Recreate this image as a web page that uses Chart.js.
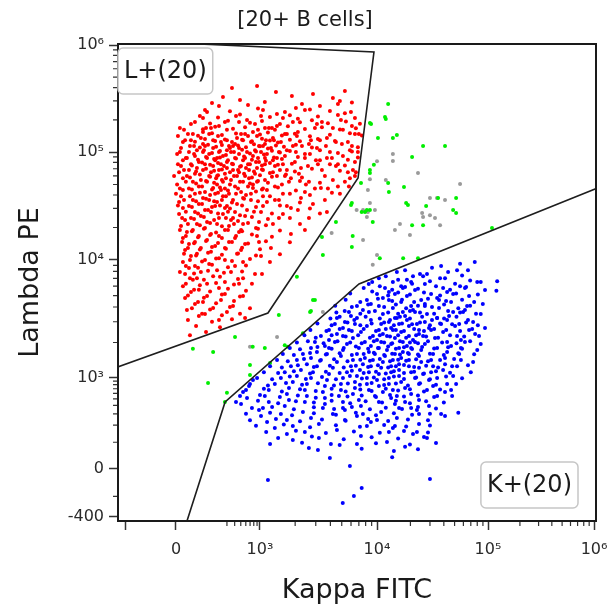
<!DOCTYPE html>
<html>
<head>
<meta charset="utf-8">
<title>20+ B cells</title>
<script src="https://cdn.jsdelivr.net/npm/chart.js@4.4.1/dist/chart.umd.min.js"></script>
<style>
  html, body { margin: 0; padding: 0; background: #fff; }
  #wrap { width: 610px; height: 607px; }
</style>
</head>
<body>
<div id="wrap"><canvas id="plot" width="610" height="607"></canvas></div>
<script>
// axis ticks (biexponential display)
const kappaTicks = [-400, 0, 1e3, 1e4, 1e5, 1e6];
const kappaTickLabels = ['', '0', '10³', '10⁴', '10⁵', '10⁶'];
const lambdaTicks = [-400, 0, 1e3, 1e4, 1e5, 1e6];
const lambdaTickLabels = ['-400', '0', '10³', '10⁴', '10⁵', '10⁶'];
const kappaMinor = [300,400,500,600,700,800,900,2e3,3e3,4e3,5e3,6e3,7e3,8e3,9e3,2e4,3e4,4e4,5e4,6e4,7e4,8e4,9e4,2e5,3e5,4e5,5e5,6e5,7e5,8e5,9e5];
const lambdaMinor = [-150,100,200,300,400,500,600,700,800,900,2e3,3e3,4e3,5e3,6e3,7e3,8e3,9e3,2e4,3e4,4e4,5e4,6e4,7e4,8e4,9e4,2e5,3e5,4e5,5e5,6e5,7e5,8e5,9e5];

// gates [kappa, lambda]
const lGate = [[-600,1230],[1170,3560],[6890,5.74e4],[9420,8.6e5],[-600,1.11e6]];
const kGate = [[35,-580],[280,450],[7020,6270],[1.2e6,4.85e4]];
const gateNames = ['L+(20)', 'K+(20)'];

// events [kappa, lambda]
const lPlus = [
[362,3.96e5],[900,4.14e5],
[1370,3.64e5],[2840,3.48e5],[5320,3.72e5],
[258,3.27e5],[486,3.06e5],[1876,3.34e5],[4200,3.2e5],[4820,3.0e5],
[167,2.87e5],[650,2.75e5],[1100,2.93e5],[2286,2.81e5],[3256,2.69e5],[6106,2.9e5],
[221,2.69e5],[1061,2.47e5],[2029,2.58e5],[4637,2.81e5],
[123,2.47e5],[336,2.4e5],[931,2.55e5],[1635,2.36e5],[2675,2.5e5],[3963,2.42e5],[5320,2.3e5],
[135,2.36e5],[420,2.17e5],[1397,2.26e5],[2424,2.47e5],[5990,2.36e5],
[96,2.17e5],[213,2.1e5],[486,2.24e5],[1217,2.12e5],[1803,2.2e5],[2111,2.05e5],[3130,2.15e5],[4637,2.22e5],[6480,2.08e5],
[112,2.08e5],[278,1.91e5],[627,1.99e5],[1020,2.17e5],[1572,2.08e5],[3386,1.91e5],[4920,1.99e5],
[73,1.91e5],[154,1.85e5],[312,1.96e5],[698,1.88e5],[1040,1.95e5],[1482,1.83e5],[2198,1.9e5],[2782,1.98e5],[3810,1.86e5],[5427,1.93e5],[7146,1.84e5],
[56,1.83e5],[129,1.68e5],[221,1.75e5],[469,1.91e5],[836,1.83e5],[1193,1.68e5],[1397,1.75e5],[1913,1.91e5],[3070,1.83e5],[4200,1.68e5],[6106,1.75e5],
[14,1.68e5],[112,1.63e5],[190,1.72e5],[376,1.65e5],[584,1.7e5],[931,1.61e5],[1266,1.68e5],[1734,1.74e5],[2424,1.64e5],[3386,1.7e5],[4823,1.62e5],[6605,1.67e5],
[29,1.61e5],[64,1.47e5],[112,1.54e5],[160,1.68e5],[300,1.61e5],[505,1.47e5],[777,1.54e5],[1103,1.68e5],[1343,1.61e5],[1700,1.47e5],[2111,1.54e5],[2950,1.68e5],[5117,1.61e5],[7000,1.47e5],
[44,1.47e5],[87,1.42e5],[167,1.5e5],[248,1.44e5],[420,1.49e5],[650,1.41e5],[1000,1.46e5],[1170,1.52e5],[1541,1.43e5],[1990,1.48e5],[2675,1.4e5],[3963,1.45e5],[5871,1.5e5],[7432,1.43e5],
[7,1.41e5],[56,1.29e5],[101,1.35e5],[148,1.47e5],[213,1.41e5],[300,1.29e5],[436,1.35e5],[584,1.47e5],[898,1.41e5],[1125,1.29e5],[1291,1.35e5],[1635,1.47e5],[2070,1.41e5],[2728,1.29e5],[3736,1.35e5],[6480,1.47e5],
[33,1.29e5],[73,1.25e5],[123,1.32e5],[190,1.27e5],[278,1.31e5],[362,1.24e5],[524,1.3e5],[749,1.26e5],[1040,1.33e5],[1217,1.28e5],[1425,1.23e5],[1803,1.3e5],[2198,1.26e5],[3130,1.32e5],[4372,1.27e5],[5644,1.24e5],
[25,1.24e5],[69,1.14e5],[112,1.19e5],[175,1.29e5],[239,1.24e5],[324,1.14e5],[405,1.19e5],[543,1.29e5],[723,1.24e5],[965,1.14e5],[1103,1.19e5],[1317,1.29e5],[1511,1.24e5],[1913,1.14e5],[2623,1.19e5],[3256,1.29e5],[4459,1.24e5],[6106,1.14e5],
[52,1.14e5],[96,1.1e5],[141,1.17e5],[197,1.12e5],[248,1.16e5],[336,1.09e5],[452,1.15e5],[604,1.11e5],[806,1.18e5],[1000,1.13e5],[1170,1.08e5],[1370,1.15e5],[1603,1.12e5],[2029,1.17e5],[2782,1.1e5],[3663,1.14e5],[5016,1.19e5],[6870,1.11e5],
[18,1.09e5],[48,1e5],[82,1.04e5],[123,1.14e5],[175,1.09e5],[221,1e5],[300,1.04e5],[376,1.14e5],[469,1.09e5],[627,1e5],[836,1.04e5],[1061,1.14e5],[1241,1.09e5],[1453,1e5],[1700,1.04e5],[2286,1.14e5],[3070,1.09e5],[3963,1e5],[5871,1.04e5],
[14,1e5],[69,9.6e4],[117,1.04e5],[167,9.8e4],[230,1.02e5],[289,9.4e4],[390,1e5],[524,1.05e5],[698,9.7e4],[866,1.01e5],[1082,9.5e4],[1266,1.03e5],[1482,9.9e4],[1803,1.02e5],[2424,9.6e4],[3256,1.04e5],[4637,9.8e4],[6106,1.01e5],
[4,9.6e4],[40,8.8e4],[73,9.2e4],[112,1e5],[148,9.6e4],[205,8.8e4],[258,9.2e4],[349,1e5],[469,9.6e4],[584,8.8e4],[777,9.2e4],[1020,1e5],[1147,9.6e4],[1397,8.8e4],[1635,9.2e4],[2029,1e5],[2675,9.6e4],[3736,8.8e4],[5117,9.2e4],[6870,1e5],
[36,8.8e4],[87,8.5e4],[129,9e4],[182,8.6e4],[230,8.9e4],[312,8.4e4],[420,8.7e4],[563,9.1e4],[749,8.5e4],[931,8.8e4],[1125,8.3e4],[1317,8.9e4],[1541,8.6e4],[2111,9e4],[3010,8.4e4],[4122,8.8e4],[5644,8.5e4],[6870,8.9e4],
[25,8.4e4],[56,7.7e4],[91,8.1e4],[135,8.8e4],[190,8.4e4],[239,7.7e4],[300,8.1e4],[405,8.8e4],[543,8.4e4],[698,7.7e4],[965,8.1e4],[1103,8.8e4],[1291,8.4e4],[1572,7.7e4],[1990,8.1e4],[2424,8.8e4],[3256,8.4e4],[4637,7.7e4],[6480,8.1e4],
[7,7.7e4],[60,7.5e4],[107,8e4],[154,7.6e4],[213,7.9e4],[268,7.4e4],[362,7.8e4],[486,7.3e4],[650,7.7e4],[866,8.1e4],[1040,7.5e4],[1217,7.9e4],[1425,7.6e4],[1876,7.8e4],[2572,7.4e4],[3963,7.7e4],[5320,7.5e4],
[18,7.4e4],[48,6.8e4],[82,7.1e4],[123,7.7e4],[175,7.4e4],[221,6.8e4],[300,7.1e4],[376,7.7e4],[505,7.4e4],[674,6.8e4],[898,7.1e4],[1103,7.7e4],[1343,7.4e4],[1700,6.8e4],[2242,7.1e4],[3130,7.7e4],[4459,7.4e4],[6230,6.8e4],
[29,6.8e4],[78,6.6e4],[129,7e4],[182,6.7e4],[248,6.9e4],[336,6.5e4],[452,6.8e4],[604,7.1e4],[806,6.6e4],[1040,6.9e4],[1217,6.4e4],[1482,6.8e4],[1990,6.6e4],[2782,7e4],[4823,6.7e4],[6605,6.5e4],
[11,6.5e4],[40,6e4],[73,6.3e4],[112,6.8e4],[160,6.5e4],[205,6e4],[278,6.3e4],[376,6.8e4],[469,6.5e4],[584,6e4],[836,6.3e4],[1061,6.8e4],[1291,6.5e4],[1635,6e4],[2154,6.3e4],[3386,6.8e4],[5644,6.5e4],
[-8,6e4],[52,5.8e4],[96,6.2e4],[154,5.9e4],[213,6.1e4],[289,5.7e4],[390,6e4],[563,6.3e4],[749,5.8e4],[1000,6.1e4],[1266,5.9e4],[1667,6.2e4],[2286,5.8e4],[3590,6e4],[5871,5.7e4],
[25,5.7e4],[64,5.3e4],[101,5.5e4],[148,6e4],[197,5.7e4],[258,5.3e4],[349,5.5e4],[436,6e4],[674,5.7e4],[898,5.3e4],[1103,5.5e4],[1397,6e4],[1840,5.7e4],[2623,5.3e4],[4200,5.5e4],[6480,6e4],
[36,5.3e4],[78,5.1e4],[129,5.4e4],[182,5.2e4],[248,5.5e4],[336,5e4],[486,5.3e4],[698,5.1e4],[931,5.4e4],[1170,5.2e4],[1541,5e4],[2198,5.4e4],[3256,5.2e4],[5320,5.3e4],
[4,5e4],[48,4.6e4],[91,4.8e4],[135,5.3e4],[205,5e4],[278,4.6e4],[405,4.8e4],[543,5.3e4],[777,5e4],[1061,4.6e4],[1343,4.8e4],[1770,5.3e4],[2473,5e4],[3810,4.6e4],[5757,4.8e4],
[14,4.6e4],[60,4.5e4],[107,4.8e4],[167,4.5e4],[230,4.7e4],[312,4.4e4],[452,4.6e4],[650,4.8e4],[1040,4.5e4],[1425,4.7e4],[2029,4.4e4],[2950,4.6e4],[4637,4.8e4],
[25,4.45e4],[73,4.1e4],[123,4.26e4],[175,4.64e4],[239,4.45e4],[324,4.1e4],[505,4.26e4],[777,4.64e4],[1147,4.45e4],[1572,4.1e4],[2424,4.26e4],[3320,4.64e4],
[0,4.1e4],[52,3.9e4],[96,4.2e4],[154,4e4],[213,4.2e4],[289,3.9e4],[420,4.1e4],[604,4e4],[866,4.3e4],[1217,3.9e4],[1803,4.1e4],[2675,4e4],[4122,4.2e4],
[18,3.9e4],[64,3.6e4],[112,3.75e4],[190,4.1e4],[258,3.9e4],[376,3.6e4],[543,3.75e4],[723,4.1e4],[1061,3.9e4],[1453,3.6e4],[2242,3.75e4],[4823,4.1e4],
[29,3.6e4],[78,3.5e4],[129,3.7e4],[182,3.5e4],[248,3.6e4],[362,3.4e4],[563,3.7e4],[931,3.5e4],[1343,3.6e4],[2198,3.4e4],[3590,3.6e4],
[11,3.44e4],[48,3.16e4],[91,3.3e4],[148,3.59e4],[205,3.44e4],[300,3.16e4],[436,3.3e4],[723,3.59e4],[1147,3.44e4],[1700,3.16e4],[2838,3.3e4],
[7,3.2e4],[60,3.1e4],[107,3.3e4],[167,3.1e4],[230,3.2e4],[336,3e4],[524,3.2e4],[866,3.1e4],[1482,3.2e4],[2675,3e4],
[25,3.03e4],[73,2.78e4],[123,2.9e4],[190,3.16e4],[278,3.03e4],[405,2.78e4],[627,2.9e4],[1061,3.16e4],[1840,3.03e4],[3736,2.78e4],
[36,2.8e4],[87,2.7e4],[141,2.9e4],[213,2.7e4],[312,2.8e4],[486,2.6e4],[806,2.8e4],[1266,2.7e4],[2111,2.9e4],[3256,2.7e4],
[11,2.67e4],[56,2.45e4],[101,2.56e4],[160,2.78e4],[258,2.67e4],[376,2.45e4],[584,2.56e4],[1020,2.78e4],[1572,2.67e4],[2623,2.45e4],
[22,2.45e4],[69,2.4e4],[117,2.5e4],[182,2.35e4],[289,2.45e4],[452,2.3e4],[749,2.5e4],[1170,2.4e4],[1803,2.45e4],
[33,2.35e4],[82,2.15e4],[135,2.25e4],[221,2.45e4],[349,2.35e4],[543,2.15e4],[965,2.25e4],[1453,2.45e4],
[44,2.15e4],[96,2.1e4],[154,2.2e4],[248,2.05e4],[390,2.15e4],[650,2.2e4],[1125,2.1e4],[2198,2.15e4],
[18,2.06e4],[64,1.9e4],[123,1.98e4],[205,2.15e4],[324,2.06e4],[505,1.9e4],[866,1.98e4],[1291,2.15e4],
[14,1.9e4],[60,1.85e4],[117,1.95e4],[197,1.8e4],[312,1.9e4],[524,1.85e4],[931,1.95e4],[1482,1.88e4],[2424,1.9e4],
[40,1.82e4],[91,1.67e4],[160,1.74e4],[278,1.9e4],[469,1.82e4],[898,1.67e4],[1840,1.74e4],
[36,1.67e4],[87,1.62e4],[154,1.7e4],[248,1.6e4],[420,1.67e4],[749,1.72e4],[1266,1.64e4],
[25,1.6e4],[73,1.47e4],[135,1.53e4],[221,1.67e4],[405,1.6e4],[965,1.47e4],
[22,1.47e4],[69,1.43e4],[129,1.5e4],[213,1.44e4],[362,1.47e4],[650,1.42e4],[1125,1.49e4],[1803,1.46e4],
[48,1.41e4],[101,1.29e4],[190,1.35e4],[324,1.47e4],[584,1.41e4],[1241,1.29e4],
[44,1.29e4],[96,1.25e4],[167,1.32e4],[289,1.27e4],[524,1.3e4],[1000,1.26e4],
[33,1.24e4],[82,1.14e4],[160,1.19e4],[278,1.29e4],[505,1.24e4],
[29,1.14e4],[78,1.1e4],[141,1.17e4],[248,1.12e4],[452,1.15e4],[866,1.1e4],[1482,1.13e4],
[56,1.09e4],[123,1e4],[221,1.04e4],[436,1.14e4],[1020,1.09e4],
[52,1e4],[107,9.7e3],[197,1.03e4],[362,9.8e3],[698,1.02e4],[1217,9.6e3],
[25,9.6e3],[73,8.9e3],[148,9.25e3],[278,1e4],[543,9.6e3],
[36,8.9e3],[87,8.6e3],[167,9.1e3],[312,8.7e3],[604,9e3],
[48,8.56e3],[101,7.9e3],[205,8.2e3],[405,8.9e3],
[14,7.9e3],[69,7.7e3],[141,8.1e3],[268,7.8e3],[524,8e3],[1040,7.6e3],
[33,7.6e3],[82,7e3],[175,7.3e3],[349,7.9e3],[836,7.6e3],
[52,7e3],[117,6.8e3],[230,7.2e3],[452,6.9e3],
[64,6.8e3],[135,6.3e3],[278,6.5e3],[543,7e3],
[36,6.3e3],[96,6.1e3],[197,6.4e3],[390,6.2e3],[749,6.3e3],
[25,6e3],[91,5.6e3],[221,5.8e3],[469,6.3e3],
[69,5.6e3],[154,5.4e3],[312,5.7e3],[604,5.5e3],
[56,5.36e3],[135,4.95e3],[278,5.15e3],
[44,5e3],[117,4.8e3],[248,5.1e3],[486,4.9e3],
[33,4.76e3],[112,4.41e3],[239,4.58e3],[543,4.95e3],
[87,4.4e3],[197,4.3e3],[390,4.5e3],
[73,4.24e3],[175,3.92e3],[376,4.08e3],
[60,3.9e3],[154,3.8e3],[336,4e3],[698,3.9e3],
[40,3.77e3],[123,3.49e3],[300,3.63e3],
[107,3.5e3],[248,3.4e3],[486,3.5e3],
[91,3.35e3],[221,3.1e3],[584,3.23e3],
[44,3.1e3],[167,3e3],[362,3.15e3],
[78,2.76e3],[230,2.7e3],
[129,2.45e3],[52,2.3e3]
];

const kPlus = [
[5.6e4,9.3e3],[7.6e4,9.6e3],
[3.78e4,8.9e3],[6.6e4,8.2e3],
[1.79e4,8.2e3],[3.13e4,8.6e3],[4.37e4,7.9e3],
[1.51e4,7.9e3],[2.11e4,7.3e3],[2.82e4,7.6e3],[5.26e4,8.2e3],
[1.2e4,7.3e3],[2.44e4,7.6e3],[3.7e4,7e3],[5.84e4,7.4e3],
[1.04e4,7e3],[1.39e4,6.5e3],[1.86e4,6.8e3],[2.6e4,7.3e3],[4.1e4,7e3],[8.6e4,6.5e3],
[9.1e3,6.5e3],[1.55e4,6.8e3],[2.07e4,6.3e3],[3e4,6.6e3],[5.05e4,6.3e3],[6.9e4,6.7e3],[1.22e5,6.6e3],
[8.5e3,6.26e3],[1.18e4,5.8e3],[1.65e4,6e3],[2.03e4,6.5e3],[2.7e4,6.26e3],[3.94e4,5.8e3],[5.6e4,6e3],[8e4,6.5e3],
[7.7e3,5.8e3],[1.06e4,6e3],[1.37e4,5.6e3],[1.79e4,5.9e3],[2.34e4,5.7e3],[3.4e4,6e3],[4.55e4,5.6e3],[6.35e4,5.9e3],[1.2e5,5.5e3],
[1e4,5.15e3],[1.28e4,5.36e3],[1.71e4,5.79e3],[2.2e4,5.57e3],[3.07e4,5.15e3],[4.28e4,5.36e3],[6.2e4,5.79e3],[9.4e4,5.57e3],
[5.9e3,5.2e3],[9.1e3,5.4e3],[1.26e4,5e3],[1.55e4,5.3e3],[1.98e4,5.1e3],[2.65e4,5.3e3],[3.7e4,5e3],[5.16e4,5.2e3],[8.1e4,5.1e3],
[8.2e3,4.58e3],[1.13e4,4.76e3],[1.45e4,5.15e3],[1.86e4,4.95e3],[2.5e4,4.58e3],[3.48e4,4.76e3],[4.85e4,5.15e3],[6.75e4,4.95e3],
[5.4e3,4.6e3],[7.2e3,4.4e3],[1.02e4,4.7e3],[1.37e4,4.5e3],[1.68e4,4.6e3],[2.16e4,4.4e3],[2.88e4,4.7e3],[4.19e4,4.5e3],[5.84e4,4.6e3],[7.5e4,4.4e3],
[6.74e3,4.08e3],[8.87e3,4.24e3],[1.28e4,4.58e3],[1.65e4,4.41e3],[2.03e4,4.08e3],[2.7e4,4.24e3],[3.62e4,4.58e3],[4.65e4,4.41e3],[6.48e4,4.08e3],[8.98e4,4.24e3],
[4.4e3,4.1e3],[6.1e3,4e3],[8.4e3,4.2e3],[1.16e4,4e3],[1.48e4,4.2e3],[1.83e4,3.9e3],[2.34e4,4.1e3],[3.13e4,4e3],[4.02e4,4.2e3],[5.4e4,3.9e3],[6.9e4,4.1e3],
[5.76e3,3.63e3],[7.58e3,3.77e3],[1.04e4,4.08e3],[1.39e4,3.92e3],[1.71e4,3.63e3],[2.11e4,3.77e3],[2.7e4,4.08e3],[3.62e4,3.92e3],[4.85e4,3.63e3],[6.2e4,3.77e3],
[4.5e3,3.6e3],[5.3e3,3.7e3],[7.2e3,3.5e3],[9.6e3,3.7e3],[1.26e4,3.6e3],[1.55e4,3.5e3],[1.98e4,3.7e3],[2.44e4,3.6e3],[3.27e4,3.5e3],[4.37e4,3.7e3],[5.6e4,3.6e3],[7.8e4,3.5e3],
[4.55e3,3.23e3],[5.99e3,3.35e3],[8.53e3,3.63e3],[1.13e4,3.49e3],[1.45e4,3.23e3],[1.79e4,3.35e3],[2.2e4,3.63e3],[2.82e4,3.49e3],[3.48e4,3.23e3],[4.46e4,3.35e3],[5.96e4,3.63e3],[8.6e4,3.49e3],
[4e3,3.2e3],[4.8e3,3.3e3],[6.4e3,3.1e3],[8e3,3.3e3],[1.06e4,3.2e3],[1.31e4,3.1e3],[1.61e4,3.3e3],[1.98e4,3.2e3],[2.55e4,3.3e3],[3.13e4,3.1e3],[4.02e4,3.2e3],[5.2e4,3.3e3],[6.6e4,3.1e3],
[4.37e3,2.87e3],[5.32e3,2.98e3],[6.74e3,3.23e3],[8.87e3,3.1e3],[1.09e4,2.87e3],[1.28e4,2.98e3],[1.51e4,3.23e3],[1.86e4,3.1e3],[2.29e4,2.87e3],[2.7e4,2.98e3],[3.48e4,3.23e3],[4.28e4,3.1e3],[5.5e4,2.87e3],[7.34e4,2.98e3],
[3.1e3,2.9e3],[4.1e3,2.8e3],[5.6e3,2.95e3],[7.2e3,2.8e3],[9e3,2.9e3],[1.16e4,2.95e3],[1.42e4,2.8e3],[1.68e4,2.9e3],[2.07e4,2.85e3],[2.44e4,2.95e3],[3e4,2.8e3],[3.7e4,2.9e3],[4.75e4,2.85e3],[6.35e4,2.95e3],[8.1e4,2.8e3],
[3.89e3,2.55e3],[5.12e3,2.65e3],[6.48e3,2.87e3],[8.2e3,2.76e3],[1.04e4,2.55e3],[1.34e4,2.65e3],[1.58e4,2.87e3],[1.94e4,2.76e3],[2.39e4,2.55e3],[2.94e4,2.65e3],[3.78e4,2.87e3],[5.05e4,2.76e3],[6.75e4,2.55e3],[9.4e4,2.65e3],
[2.7e3,2.55e3],[3.7e3,2.5e3],[4.8e3,2.6e3],[6.1e3,2.5e3],[7.7e3,2.6e3],[9.8e3,2.5e3],[1.2e4,2.6e3],[1.48e4,2.55e3],[1.75e4,2.5e3],[2.16e4,2.6e3],[2.65e4,2.5e3],[3.27e4,2.6e3],[4.2e4,2.55e3],[5.6e4,2.5e3],[7.2e4,2.6e3],
[3.32e3,2.27e3],[4.55e3,2.36e3],[5.76e3,2.55e3],[7.29e3,2.45e3],[9.23e3,2.27e3],[1.13e4,2.36e3],[1.39e4,2.55e3],[1.65e4,2.45e3],[1.94e4,2.27e3],[2.39e4,2.36e3],[3.07e4,2.55e3],[3.94e4,2.45e3],[5.26e4,2.27e3],[7.65e4,2.36e3],
[2.4e3,2.3e3],[3e3,2.2e3],[4.1e3,2.3e3],[5.4e3,2.25e3],[6.9e3,2.3e3],[8.7e3,2.2e3],[1.06e4,2.3e3],[1.31e4,2.25e3],[1.55e4,2.3e3],[1.83e4,2.2e3],[2.25e4,2.3e3],[2.77e4,2.25e3],[3.55e4,2.2e3],[4.55e4,2.3e3],[6.1e4,2.25e3],
[2.95e3,2.02e3],[3.89e3,2.1e3],[5.12e3,2.27e3],[6.23e3,2.18e3],[7.88e3,2.02e3],[1e4,2.1e3],[1.23e4,2.27e3],[1.45e4,2.18e3],[1.71e4,2.02e3],[2.11e4,2.1e3],[2.6e4,2.27e3],[3.33e4,2.18e3],[4.28e4,2.02e3],[5.7e4,2.1e3],[8.3e4,2.27e3],
[2.07e3,2e3],[2.57e3,2.05e3],[3.5e3,1.97e3],[4.6e3,2.05e3],[5.9e3,2e3],[7.4e3,1.97e3],[9.4e3,2.05e3],[1.16e4,2e3],[1.37e4,1.97e3],[1.61e4,2.05e3],[1.98e4,2e3],[2.34e4,1.97e3],[2.88e4,2.05e3],[3.86e4,2e3],[5.2e4,1.97e3],[6.9e4,2.05e3],
[2.73e3,1.8e3],[3.59e3,1.87e3],[4.37e3,2.02e3],[5.54e3,1.94e3],[7e3,1.8e3],[8.87e3,1.87e3],[1.09e4,2.02e3],[1.34e4,1.94e3],[1.58e4,1.8e3],[1.86e4,1.87e3],[2.2e4,2.02e3],[2.7e4,1.94e3],[3.48e4,1.8e3],[4.65e4,1.87e3],[6.2e4,2.02e3],[8.6e4,1.94e3],
[1.8e3,1.8e3],[2.2e3,1.75e3],[3.1e3,1.83e3],[4.1e3,1.77e3],[5.2e3,1.8e3],[6.6e3,1.85e3],[8.4e3,1.77e3],[1.02e4,1.8e3],[1.26e4,1.85e3],[1.48e4,1.77e3],[1.75e4,1.82e3],[2.07e4,1.76e3],[2.55e4,1.83e3],[3.27e4,1.78e3],[4.37e4,1.82e3],[5.84e4,1.77e3],
[2.33e3,1.6e3],[3.07e3,1.66e3],[3.89e3,1.8e3],[5.12e3,1.73e3],[6.74e3,1.6e3],[8.53e3,1.66e3],[1.04e4,1.8e3],[1.23e4,1.73e3],[1.45e4,1.6e3],[1.71e4,1.66e3],[2.03e4,1.8e3],[2.5e4,1.73e3],[3.2e4,1.6e3],[4.28e4,1.66e3],[5.7e4,1.8e3],[8e4,1.73e3],
[1.57e3,1.6e3],[1.95e3,1.57e3],[2.68e3,1.63e3],[3.66e3,1.58e3],[4.8e3,1.62e3],[6.1e3,1.57e3],[7.7e3,1.6e3],[9.4e3,1.64e3],[1.16e4,1.57e3],[1.37e4,1.61e3],[1.61e4,1.58e3],[1.9e4,1.63e3],[2.34e4,1.58e3],[3e4,1.61e3],[4e4,1.57e3],[5.4e4,1.62e3],[7.5e4,1.59e3],
[2.07e3,1.42e3],[2.73e3,1.48e3],[3.74e3,1.6e3],[4.92e3,1.54e3],[6.23e3,1.42e3],[7.88e3,1.48e3],[9.6e3,1.6e3],[1.18e4,1.54e3],[1.39e4,1.42e3],[1.65e4,1.48e3],[1.94e4,1.6e3],[2.39e4,1.54e3],[3.07e4,1.42e3],[4.1e4,1.48e3],[5.5e4,1.6e3],
[1.4e3,1.42e3],[1.73e3,1.39e3],[2.38e3,1.45e3],[3.26e3,1.4e3],[4.3e3,1.44e3],[5.6e3,1.39e3],[7.2e3,1.43e3],[8.7e3,1.4e3],[1.06e4,1.45e3],[1.31e4,1.39e3],[1.55e4,1.43e3],[1.83e4,1.4e3],[2.25e4,1.44e3],[2.88e4,1.39e3],[3.7e4,1.42e3],[4.95e4,1.45e3],
[1.84e3,1.26e3],[2.52e3,1.31e3],[3.32e3,1.42e3],[4.55e3,1.37e3],[5.99e3,1.26e3],[7.58e3,1.31e3],[9.23e3,1.42e3],[1.13e4,1.37e3],[1.34e4,1.26e3],[1.58e4,1.31e3],[1.94e4,1.42e3],[2.5e4,1.37e3],[3.2e4,1.26e3],[4.1e4,1.31e3],[5.7e4,1.42e3],[7.34e4,1.37e3],
[1.22e3,1.26e3],[1.54e3,1.23e3],[2.11e3,1.28e3],[2.89e3,1.24e3],[3.96e3,1.27e3],[5.2e3,1.23e3],[6.6e3,1.27e3],[8.4e3,1.24e3],[1.02e4,1.28e3],[1.26e4,1.23e3],[1.48e4,1.26e3],[1.75e4,1.29e3],[2.16e4,1.24e3],[2.77e4,1.27e3],[3.55e4,1.23e3],[4.75e4,1.26e3],[6.6e4,1.28e3],
[1.63e3,1.12e3],[2.24e3,1.17e3],[3.07e3,1.26e3],[4.2e3,1.22e3],[5.54e3,1.12e3],[7.15e3,1.17e3],[8.87e3,1.26e3],[1.09e4,1.22e3],[1.34e4,1.12e3],[1.58e4,1.17e3],[1.94e4,1.26e3],[2.39e4,1.22e3],[3.07e4,1.12e3],[3.94e4,1.17e3],[5.26e4,1.26e3],
[1.08e3,1.12e3],[1.43e3,1.1e3],[1.95e3,1.14e3],[2.68e3,1.09e3],[3.66e3,1.13e3],[4.8e3,1.1e3],[6.1e3,1.15e3],[7.7e3,1.1e3],[9.8e3,1.13e3],[1.2e4,1.09e3],[1.42e4,1.14e3],[1.75e4,1.1e3],[2.16e4,1.13e3],[2.65e4,1.09e3],[3.4e4,1.14e3],[4.55e4,1.11e3],
[1.51e3,1e3],[2.07e3,1.04e3],[2.84e3,1.12e3],[3.89e3,1.08e3],[5.12e3,1e3],[6.74e3,1.04e3],[8.53e3,1.12e3],[1.04e4,1.08e3],[1.28e4,1e3],[1.58e4,1.04e3],[2.03e4,1.12e3],[2.6e4,1.08e3],[3.48e4,1e3],[4.85e4,1.04e3],[7e4,1.12e3],
[900,1e3],[1.27e3,960],[1.8e3,1.03e3],[2.47e3,970],[3.39e3,1.02e3],[4.46e3,960],[5.87e3,1.04e3],[7.43e3,980],[9.4e3,1.01e3],[1.16e4,960],[1.42e4,1.03e3],[1.75e4,970],[2.25e4,1.01e3],[3e4,960],[4.19e4,1.03e3],[5.84e4,990],
[777,936],[1.34e3,819],[1.91e3,877],[2.73e3,1e3],[3.74e3,936],[4.92e3,819],[6.48e3,877],[8.2e3,1e3],[1e4,936],[1.28e4,819],[1.65e4,877],[2.2e4,1e3],[2.94e4,936],[4.28e4,819],
[698,820],[1.17e3,780],[1.67e3,850],[2.29e3,800],[3.13e3,840],[4.29e3,780],[5.64e3,830],[7.15e3,800],[9e3,850],[1.16e4,790],[1.48e4,830],[1.9e4,780],[2.44e4,840],[3.4e4,800],[5.16e4,820],
[674,768],[1.19e3,672],[1.77e3,718],[2.52e3,819],[3.59e3,768],[4.92e3,672],[6.48e3,718],[8.2e3,819],[1.04e4,768],[1.39e4,672],[1.79e4,718],[2.39e4,819],[3.2e4,768],[4.65e4,672],
[604,670],[1.08e3,700],[1.54e3,640],[2.2e3,690],[3e3,650],[4.1e3,700],[5.4e3,640],[7.2e3,680],[9e3,650],[1.2e4,700],[1.55e4,660],[1.98e4,690],[2.65e4,640],[3.7e4,680],
[543,628],[1.1e3,549],[1.7e3,588],[2.42e3,672],[3.45e3,628],[4.73e3,549],[6.23e3,588],[8.53e3,672],[1.13e4,628],[1.51e4,549],[2.03e4,588],[2.82e4,672],[4.1e4,628],
[486,550],[1e3,570],[1.48e3,530],[2.11e3,560],[3e3,520],[4.1e3,570],[5.6e3,540],[7.4e3,560],[9.8e3,530],[1.31e4,570],[1.75e4,540],[2.34e4,560],[3.27e4,530],[4.75e4,550],
[627,514],[1.19e3,450],[1.77e3,480],[2.52e3,549],[3.59e3,514],[5.12e3,450],[7e3,480],[9.6e3,549],[1.34e4,514],[1.79e4,450],[2.39e4,480],[3.48e4,549],
[420,450],[930,470],[1.43e3,430],[2.03e3,460],[2.89e3,440],[4.1e3,470],[5.9e3,430],[8e3,460],[1.11e4,440],[1.48e4,470],[1.98e4,430],[2.77e4,460],[4e4,440],
[505,420],[1.06e3,366],[1.63e3,392],[2.42e3,450],[3.59e3,420],[5.12e3,366],[7.29e3,392],[1.04e4,450],[1.45e4,420],[2.03e4,366],[2.94e4,392],
[749,366],[1.27e3,380],[1.95e3,350],[2.89e3,375],[4.3e3,355],[6.1e3,380],[8.7e3,350],[1.2e4,370],[1.68e4,355],[2.34e4,380],[3.4e4,360],
[965,342],[1.51e3,298],[2.33e3,319],[3.45e3,366],[5.32e3,342],[7.58e3,298],[1.09e4,319],[1.58e4,366],[2.29e4,342],[3.78e4,298],
[604,300],[1.22e3,310],[1.88e3,285],[2.89e3,305],[4.46e3,290],[6.6e3,310],[9.8e3,285],[1.42e4,305],[2.07e4,290],[3e4,300],[5.4e4,310],
[1.02e3,278],[1.7e3,241],[2.73e3,259],[4.2e3,298],[6.74e3,278],[1e4,241],[1.51e4,259],[2.39e4,298],[4.1e4,278],
[698,240],[1.37e3,250],[2.2e3,230],[3.39e3,245],[5.4e3,235],[8.4e3,250],[1.26e4,232],[1.9e4,245],[2.88e4,238],
[1.15e3,225],[1.91e3,194],[3.19e3,209],[5.32e3,241],[8.87e3,225],[1.45e4,194],[2.39e4,209],
[866,195],[1.6e3,205],[2.68e3,185],[4.46e3,200],[7.15e3,188],[1.16e4,202],[1.83e4,190],[3e4,198],
[1.34e3,180],[2.42e3,154],[4.55e3,167],[8.2e3,194],[1.39e4,180],[2.29e4,154],
[1.13e3,155],[2.03e3,162],[3.66e3,148],[6.35e3,158],[1.06e4,150],[1.75e4,160],[2.88e4,152],
[1.7e3,142],[3.19e3,121],[7.29e3,131],[1.28e4,154],[2.11e4,142],
[1.43e3,121],[2.78e3,128],[5.2e3,115],[9e3,125],[1.55e4,118],[2.65e4,126],
[1.91e3,111],[4.04e3,92],[1.23e4,101],[2.82e4,121],
[1.22e3,92],[2.29e3,98],[4.8e3,88],[9.8e3,95],[1.98e4,90],[3.4e4,96],
[2.62e3,75],[6.74e3,92],[1.79e4,80],
[3.13e3,67],[7.4e3,72],[1.42e4,63],[2.34e4,70],
[3.96e3,37],[1.37e4,40],
[5.87e3,10],
[1.17e3,-50],[3e4,-45],
[7.4e3,-93],
[6.35e3,-148],
[5.1e3,-210]
];

const greenEvents = [
[1.26e4,2.81e5],[1.18e4,2.12e5],[1.2e4,2.03e5],[8.9e3,1.83e5],[1.02e4,1.35e5],[1.39e4,1.35e5],[1.51e4,1.44e5],
[2.6e4,1.14e5],[4.1e4,1.14e5],[2.07e4,9e4],[9.4e3,7.6e4],[8.7e3,6.4e4],[1.26e4,5.16e4],[1.28e4,4.26e4],[1.75e4,4.74e4],
[6.1e3,3.37e4],[7.4e3,2.78e4],[7.9e3,2.78e4],[8.7e3,2.9e4],[9.2e3,2.25e4],[1.83e4,3.37e4],[1.9e4,3.23e4],[2.77e4,3.16e4],
[3.55e4,3.75e4],[5.16e4,3.75e4],[4.85e4,2.9e4],[5.16e4,2.72e4],[2.07e4,2.1e4],[4.46e3,2.25e4],[2.6e4,2.1e4],[1.09e5,1.98e4],
[8.7e3,1.87e5],[8.7e3,6.8e4],[7.3e3,5.16e4],[6e3,3.23e4],[8.2e3,2.9e4],[6.2e3,1.67e4],[6.1e3,1.32e4],
[3.45e3,1.11e4],[3.39e3,1.63e4],[2.07e3,7.2e3],[2.84e3,4.58e3],[1.45e3,3.42e3],[2.73e3,3.7e3],[2.33e3,2.4e3],[405,2.23e3],
[1.06e4,1.04e4],[1.72e4,1.04e4],[2.34e4,1.04e4],[2.95e3,4.58e3],[2.68e3,3.63e3],[175,1.66e3],[1.1e3,1.8e3],[770,1.84e3],
[1.63e3,1.9e3],[1.73e3,1.84e3],[698,1.29e3],[698,1.06e3],[141,850],[300,610],[278,450],[1.22e3,1.34e3],[64,1.77e3]
];

const grayEvents = [
[1e4,8.2e4],[1.39e4,9.6e4],[1.39e4,8.25e4],[2.34e4,6.4e4],[5.6e4,5.05e4],[1.2e4,5.5e4],[8.7e3,5.6e4],[8.36e3,4.45e4],
[3e4,3.75e4],[3.47e4,3.75e4],[2.55e4,2.72e4],[2.6e4,2.5e4],[3.33e4,2.45e4],[1.61e4,2.15e4],
[8.7e3,3.37e4],[7.6e3,2.9e4],[8.36e3,2.78e4],[9.6e3,2.9e4],[8.2e3,2.5e4],[6.7e3,2.9e4],
[4.1e3,1.78e4],[7.6e3,1.53e4],[1e4,1.11e4],[3.45e3,3.63e3],[1.4e3,2.23e3],[9.2e3,9.1e3],[698,1.84e3],
[1.98e4,1.7e4],[3e4,2.6e4],[4.1e4,3.59e4],[3.7e4,2.1e4],[1.45e4,1.9e4]
];

// display transform: value -> channel, asinh-interpolated between calibration points
function channelOf(v, anchors) {
  const h = x => Math.asinh(x / 100);
  let i = 0;
  while (i < anchors.length - 2 && v > anchors[i + 1][0]) i++;
  const a = anchors[i], b = anchors[i + 1];
  return a[1] + (h(v) - h(a[0])) / (h(b[0]) - h(a[0])) * (b[1] - a[1]);
}

class BiexScale extends Chart.Scale {
  determineDataLimits() {
    this.min = this.options.min;
    this.max = this.options.max;
  }
  buildTicks() {
    return this.options.tickValues.map(v => ({ value: v }));
  }
  configure() {
    super.configure();
    const a = this.options.anchors;
    this._c0 = channelOf(this.min, a);
    this._c1 = channelOf(this.max, a);
  }
  getPixelForValue(value) {
    const c = channelOf(value, this.options.anchors);
    return this.getPixelForDecimal((c - this._c0) / (this._c1 - this._c0));
  }
  getValueForPixel(pixel) {
    const target = this._c0 + this.getDecimalForPixel(pixel) * (this._c1 - this._c0);
    let lo = -1e7, hi = 1e7;
    for (let k = 0; k < 80; k++) {
      const mid = (lo + hi) / 2;
      if (channelOf(mid, this.options.anchors) < target) lo = mid; else hi = mid;
    }
    return lo;
  }
  getLabelForValue(v) { return String(v); }
}
BiexScale.id = 'biex';
BiexScale.defaults = {};
Chart.register(BiexScale);

const FONT = 'DejaVu Sans';

function drawTag(ctx, text, x, y, side) {
  ctx.font = '24px "' + FONT + '"';
  const w = ctx.measureText(text).width + 12, h = 46;
  const x0 = side === 'left' ? x : x - w;
  const y0 = side === 'left' ? y : y - h;
  ctx.beginPath();
  ctx.roundRect(x0, y0, w, h, 5);
  ctx.fillStyle = 'rgba(255,255,255,0.92)';
  ctx.fill();
  ctx.strokeStyle = '#c6c6c6';
  ctx.lineWidth = 1.5;
  ctx.stroke();
  ctx.fillStyle = '#1a1a1a';
  ctx.textAlign = 'center';
  ctx.textBaseline = 'middle';
  ctx.fillText(text, x0 + w / 2, y0 + h / 2 + 1);
}

const overlay = {
  id: 'overlay',
  afterDatasetsDraw(chart) {
    const { ctx, chartArea: a, scales } = chart;
    ctx.save();
    ctx.strokeStyle = '#333';
    ctx.lineWidth = 1.2;
    ctx.beginPath();
    kappaMinor.forEach(v => {
      const x = scales.x.getPixelForValue(v);
      ctx.moveTo(x, a.bottom); ctx.lineTo(x, a.bottom + 5);
    });
    lambdaMinor.forEach(v => {
      const y = scales.y.getPixelForValue(v);
      ctx.moveTo(a.left, y); ctx.lineTo(a.left - 5, y);
    });
    ctx.stroke();
    ctx.strokeStyle = '#1a1a1a';
    ctx.lineWidth = 2;
    ctx.strokeRect(a.left, a.top, a.right - a.left, a.bottom - a.top);
    drawTag(ctx, gateNames[0], a.left, a.top + 4, 'left');
    drawTag(ctx, gateNames[1], a.right - 18, a.bottom - 13, 'right');
    ctx.restore();
  }
};

const toXY = arr => arr.map(p => ({ x: p[0], y: p[1] }));
const dots = (label, data, color) => ({
  label, data: toXY(data), showLine: false,
  pointRadius: 2, pointBorderWidth: 0, pointBackgroundColor: color, pointBorderColor: color
});
const gate = (label, data) => ({
  label, data: toXY(data), showLine: true, clip: 0,
  borderColor: '#1e1e1e', borderWidth: 1.6, pointRadius: 0, fill: false, tension: 0
});

new Chart(document.getElementById('plot'), {
  type: 'scatter',
  data: {
    datasets: [
      gate('L+ gate', lGate),
      gate('K+ gate', kGate),
      dots('L+', lPlus, '#ff0000'),
      dots('K+', kPlus, '#0000ff'),
      dots('other', greenEvents, '#00ee00'),
      dots('ungated', grayEvents, '#9a9a9a')
    ]
  },
  options: {
    responsive: false,
    animation: false,
    events: [],
    layout: { padding: 0 },
    plugins: {
      legend: { display: false },
      tooltip: { enabled: false },
      title: {
        display: true,
        text: '[20+ B cells]',
        color: '#1a1a1a',
        font: { family: FONT, size: 21, weight: 'normal' },
        padding: { top: 8, bottom: 10.8 }
      }
    },
    scales: {
      x: {
        type: 'biex', position: 'bottom',
        min: -563, max: 1.044e6,
        anchors: [[-400, -50], [0, 0], [1e3, 84], [1e4, 201], [1e5, 312], [1e6, 418]],
        tickValues: kappaTicks,
        afterFit: s => { s.height = 86; s.paddingLeft = 0; s.paddingRight = 14; },
        grid: { drawOnChartArea: false, tickLength: 9, tickColor: '#333', tickWidth: 1.5 },
        border: { display: true, color: '#1a1a1a', width: 2 },
        ticks: {
          autoSkip: false, maxRotation: 0, minRotation: 0, padding: 10,
          color: '#2a2a2a', font: { family: FONT, size: 16 },
          callback: (v, i) => kappaTickLabels[i]
        },
        title: {
          display: true, text: 'Kappa FITC', color: '#1a1a1a',
          font: { family: FONT, size: 27 }, padding: { top: 0, bottom: 0 }
        }
      },
      y: {
        type: 'biex', position: 'left',
        min: -479, max: 1.022e6,
        anchors: [[-400, -48], [0, 0], [1e3, 91], [1e4, 209], [1e5, 317], [1e6, 424]],
        tickValues: lambdaTicks,
        afterFit: s => { s.width = 118; },
        grid: { drawOnChartArea: false, tickLength: 9, tickColor: '#333', tickWidth: 1.5 },
        border: { display: true, color: '#1a1a1a', width: 2 },
        ticks: {
          autoSkip: false, padding: 5,
          color: '#2a2a2a', font: { family: FONT, size: 16 },
          callback: (v, i) => lambdaTickLabels[i]
        },
        title: {
          display: true, text: 'Lambda PE', color: '#1a1a1a',
          font: { family: FONT, size: 27 }, padding: { top: 15, bottom: 0 }
        }
      }
    }
  },
  plugins: [overlay]
});
</script>
</body>
</html>
